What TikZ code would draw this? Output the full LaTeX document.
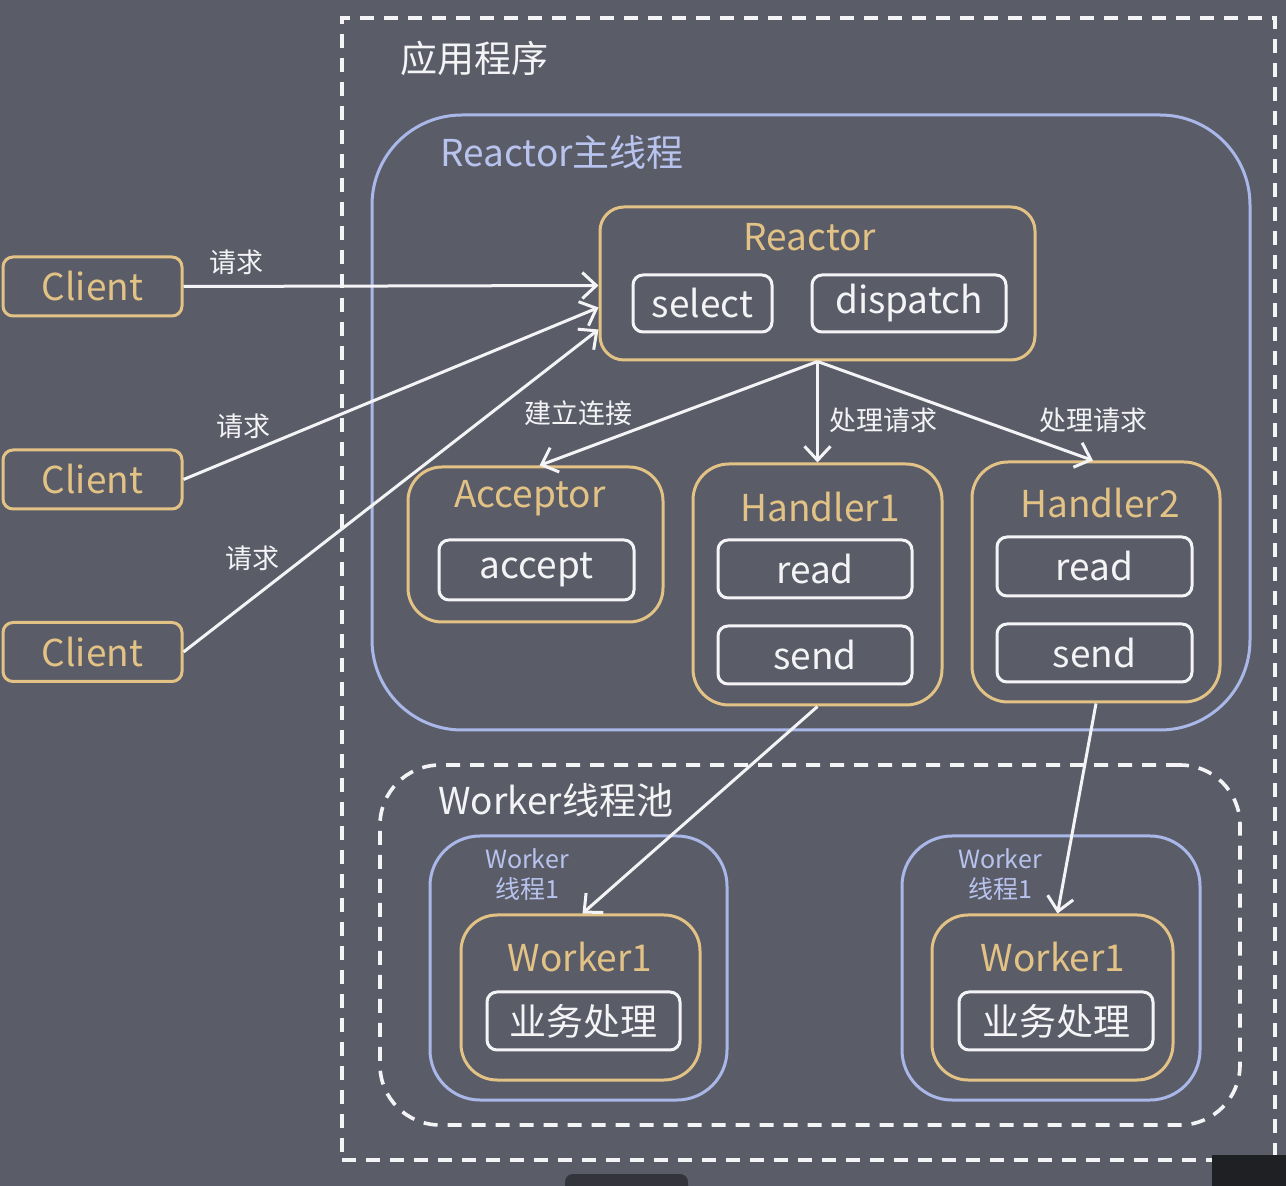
\documentclass[tikz,border=0pt]{standalone}
\usepackage{fontspec}
\setmainfont{Noto Sans CJK SC}
\usetikzlibrary{arrows.meta}

\definecolor{bg}{HTML}{5A5C68}
\definecolor{gold}{HTML}{E2C285}
\definecolor{lav}{HTML}{A9B8E8}
\definecolor{lavtext}{HTML}{B8C3EE}
\definecolor{ink}{HTML}{F4F4F6}
\definecolor{chromebar}{HTML}{34353C}
\definecolor{chromecorner}{HTML}{1F2024}

\newcommand\bigtxt{\fontsize{18.5pt}{22pt}\selectfont}
\newcommand\lbltxt{\fontsize{13.5pt}{16pt}\selectfont}
\newcommand\smalltxt{\fontsize{12.5pt}{15pt}\selectfont}

\begin{document}
\begin{tikzpicture}[x=0.5pt,y=-0.5pt,
  box/.style={draw, line width=1.5pt, inner sep=0pt, anchor=center},
  goldbox/.style={box, draw=gold, rounded corners=#1},
  goldbox/.default=5pt,
  lavbox/.style={box, draw=lav, rounded corners=#1},
  lavbox/.default=25pt,
  whitebox/.style={box, draw=ink, rounded corners=5pt, text=ink, font=\bigtxt},
  dashbox/.style={box, draw=ink, line width=1.8pt, dash pattern=on 7pt off 5pt},
  gtitle/.style={text=gold, font=\bigtxt, inner sep=0pt},
  wtitle/.style={text=ink, font=\bigtxt, inner sep=0pt},
  elabel/.style={text=ink, font=\lbltxt, inner sep=0pt},
  flow/.style={draw=ink, line width=1.5pt,
    -{Straight Barb[length=7pt,width=13pt,line width=1.5pt]}},
]
% canvas
\fill[bg] (0,0) rectangle (1286,1186);
\useasboundingbox (0,0) rectangle (1286,1186);

% application frame
\node[dashbox, minimum width=466.5pt, minimum height=571pt] (app) at (808.5,589) {};
\node[wtitle, anchor=west] (apptitle) at (400,58) {应用程序};

% Reactor main thread
\node[lavbox=45pt, minimum width=439pt, minimum height=307.5pt] (main) at (811,422.5) {};
\node[text=lavtext, font=\bigtxt, inner sep=0pt, anchor=west] (maintitle) at (440,152) {Reactor主线程};

% Reactor
\node[goldbox=12pt, minimum width=217.5pt, minimum height=76.5pt] (reactor) at (817.5,283.5) {};
\node[gtitle] (reactortitle) at (810,237) {Reactor};
\node[whitebox, minimum width=69.5pt, minimum height=28.5pt] (select) at (702.5,303.5) {select};
\node[whitebox, minimum width=97pt, minimum height=28.5pt] (dispatch) at (909,303.5) {dispatch};

% clients
\node[goldbox, minimum width=89.5pt, minimum height=29.5pt, text=gold, font=\bigtxt] (c1) at (92.5,286.5) {Client};
\node[goldbox, minimum width=89.5pt, minimum height=29.5pt, text=gold, font=\bigtxt] (c2) at (92.5,479.5) {Client};
\node[goldbox, minimum width=89.5pt, minimum height=29.5pt, text=gold, font=\bigtxt] (c3) at (92.5,652) {Client};

% Acceptor
\node[goldbox=17pt, minimum width=127.5pt, minimum height=77.5pt] (acceptor) at (535.5,544.5) {};
\node[gtitle] (acceptortitle) at (530,498) {Acceptor};
\node[whitebox, minimum width=97.5pt, minimum height=30pt] (accept) at (536.5,570) {accept};

% Handler1
\node[goldbox=18pt, minimum width=124.5pt, minimum height=120.5pt] (h1) at (817.5,584.5) {};
\node[gtitle] (h1title) at (820,507) {Handler1};
\node[whitebox, minimum width=97pt, minimum height=29pt] (read1) at (815,569) {read};
\node[whitebox, minimum width=97pt, minimum height=29pt] (send1) at (815,655) {send};

% Handler2
\node[goldbox=18pt, minimum width=124pt, minimum height=120pt] (h2) at (1096,582) {};
\node[gtitle] (h2title) at (1100,503) {Handler2};
\node[whitebox, minimum width=97.5pt, minimum height=29.5pt] (read2) at (1094.5,566.5) {read};
\node[whitebox, minimum width=97.5pt, minimum height=29pt] (send2) at (1094.5,653) {send};

% worker pool
\node[dashbox, rounded corners=30pt, minimum width=430pt, minimum height=180pt] (pool) at (810,945) {};
\node[wtitle, anchor=west] (pooltitle) at (438,800) {Worker线程池};

% worker thread 1
\node[lavbox, minimum width=148.5pt, minimum height=132pt] (wt1) at (578.5,968) {};
\node[text=lavtext, font=\smalltxt, inner sep=0pt, align=center] (wt1label) at (527,875) {Worker\\线程1};
\node[goldbox=18pt, minimum width=119.5pt, minimum height=82.5pt] (w1) at (580.5,997.5) {};
\node[gtitle] (w1title) at (580,957) {Worker1};
\node[whitebox, minimum width=96.5pt, minimum height=29pt] (biz1) at (583.5,1021) {业务处理};

% worker thread 2
\node[lavbox, minimum width=149pt, minimum height=132pt] (wt2) at (1051,968) {};
\node[text=lavtext, font=\smalltxt, inner sep=0pt, align=center] (wt2label) at (1000,875) {Worker\\线程1};
\node[goldbox=18pt, minimum width=120.5pt, minimum height=82.5pt] (w2) at (1052.5,997.5) {};
\node[gtitle] (w2title) at (1053,957) {Worker1};
\node[whitebox, minimum width=97pt, minimum height=29pt] (biz2) at (1056,1021) {业务处理};

% requests from clients
\draw[flow] (c1.east) -- ([yshift=-1pt]reactor.west);
\draw[flow] (c2.east) -- ([yshift=-12pt]reactor.west);
\draw[flow] (c3.east) -- ([yshift=-23pt]reactor.west);
\node[elabel] (q1) at (236,262) {请求};
\node[elabel] (q2) at (243,426) {请求};
\node[elabel] (q3) at (252,558) {请求};

% dispatch to acceptor and handlers
\draw[flow] (reactor.south) -- ([xshift=2pt]acceptor.north);
\draw[flow] (reactor.south) -- (h1.north);
\draw[flow] (reactor.south) -- ([xshift=-1.5pt]h2.north);
\node[elabel] (l1) at (578,413) {建立连接};
\node[elabel] (l2) at (883,420) {处理请求};
\node[elabel] (l3) at (1093,420) {处理请求};

% handlers hand work to workers
\draw[flow] (h1.south) -- ([xshift=1pt]w1.north);
\draw[flow] (h2.south) -- ([xshift=2.5pt]w2.north);

% window chrome along the lower edge
\fill[chromebar, rounded corners=4pt] (565,1174) rectangle (688,1200);
\fill[chromecorner] (1212,1155) rectangle (1286,1186);
\draw[gray!70, line width=2.5pt] (1236,1192) arc[start angle=180, end angle=320, radius=8pt];
\end{tikzpicture}
\end{document}
